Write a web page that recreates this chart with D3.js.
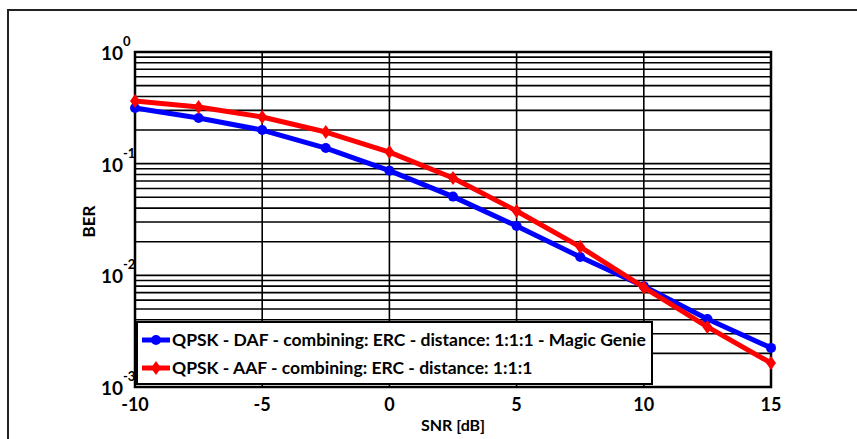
<!DOCTYPE html>
<html>
<head>
<meta charset="utf-8">
<script src="https://cdn.jsdelivr.net/npm/d3@7"></script>
<style>
  body { margin: 0; background: #fff; }
  text { font-family: Lato, "Open Sans", sans-serif; font-weight: bold; fill: #000; }
</style>
</head>
<body>
<svg id="chart" width="857" height="439"></svg>
<script>
// SNR values (dB) and BER for each series
var snr = [-10, -7.5, -5, -2.5, 0, 2.5, 5, 7.5, 10, 12.5, 15];
var berDAF = [0.315, 0.256, 0.200, 0.138, 0.0866, 0.0507, 0.0277, 0.0146, 0.0080, 0.00407, 0.00224];
var berAAF = [0.364, 0.322, 0.262, 0.192, 0.127, 0.0745, 0.0377, 0.0180, 0.0078, 0.00345, 0.00164];
var seriesNames = [
    "QPSK - DAF - combining: ERC - distance: 1:1:1 - Magic Genie",
    "QPSK - AAF - combining: ERC - distance: 1:1:1"
];
var xTicks = [-10, -5, 0, 5, 10, 15];
var yDecades = [0, -1, -2, -3];

var svg = d3.select("#chart");

// outer frame
svg.append("rect")
    .attr("x", 8).attr("y", 10)
    .attr("width", 900).attr("height", 500)
    .attr("fill", "none").attr("stroke", "#222").attr("stroke-width", 2);

var pLeft = 135, pRight = 771, pTop = 52, pBottom = 387;

var x = d3.scaleLinear().domain([-10, 15]).range([pLeft, pRight]);
var y = d3.scaleLog().domain([1e-3, 1]).range([pBottom, pTop]);

// horizontal grid (decades and minors)
var hGrid = [];
[-3, -2, -1].forEach(function(e) {
    for (var m = 1; m <= 9; m++) hGrid.push(m * Math.pow(10, e));
});
svg.append("g").selectAll("line").data(hGrid).enter().append("line")
    .attr("x1", pLeft).attr("x2", pRight)
    .attr("y1", function(d) { return y(d); })
    .attr("y2", function(d) { return y(d); })
    .attr("stroke", "#000").attr("stroke-width", 1.6);

// vertical grid
svg.append("g").selectAll("line").data(xTicks).enter().append("line")
    .attr("y1", pTop).attr("y2", pBottom)
    .attr("x1", function(d) { return x(d); })
    .attr("x2", function(d) { return x(d); })
    .attr("stroke", "#000").attr("stroke-width", 1.6);

// axes box
svg.append("rect")
    .attr("x", pLeft).attr("y", pTop)
    .attr("width", pRight - pLeft).attr("height", pBottom - pTop)
    .attr("fill", "none").attr("stroke", "#000").attr("stroke-width", 2.5);

// x tick labels
svg.append("g").selectAll("text").data(xTicks).enter().append("text")
    .attr("x", function(d) { return x(d); })
    .attr("y", 411)
    .attr("text-anchor", "middle")
    .attr("font-size", 18)
    .text(function(d) { return d; });

// y tick labels 10^n
var yl = svg.append("g").selectAll("g").data(yDecades).enter().append("g")
    .attr("transform", function(d) { return "translate(0," + y(Math.pow(10, d)) + ")"; });
yl.append("text")
    .attr("x", 123).attr("y", 8)
    .attr("text-anchor", "end")
    .attr("font-size", 19)
    .text("10");
yl.append("text")
    .attr("x", 123).attr("y", -6)
    .attr("text-anchor", "start")
    .attr("font-size", 13)
    .text(function(d) { return d; });

// axis titles
svg.append("text")
    .attr("x", x(2.5)).attr("y", 431)
    .attr("text-anchor", "middle")
    .attr("font-size", 16)
    .text("SNR [dB]");
svg.append("text")
    .attr("transform", "translate(95," + ((pTop + pBottom) / 2 + 2) + ") rotate(-90)")
    .attr("text-anchor", "middle")
    .attr("font-size", 17)
    .text("BER");

var line = d3.line()
    .x(function(d) { return x(d[0]); })
    .y(function(d) { return y(d[1]); });

var diamond = "M0,-7 L5,0 L0,7 L-5,0 Z";

function drawSeries(vals, color, marker) {
    var pts = snr.map(function(s, i) { return [s, vals[i]]; });
    var g = svg.append("g");
    g.append("path").datum(pts)
        .attr("d", line)
        .attr("fill", "none").attr("stroke", color)
        .attr("stroke-width", 5).attr("stroke-linejoin", "round");
    var m = g.selectAll(".m").data(pts).enter();
    if (marker === "circle") {
        m.append("circle")
            .attr("cx", function(d) { return x(d[0]); })
            .attr("cy", function(d) { return y(d[1]); })
            .attr("r", 5).attr("fill", color);
    } else {
        m.append("path")
            .attr("d", diamond)
            .attr("transform", function(d) { return "translate(" + x(d[0]) + "," + y(d[1]) + ")"; })
            .attr("fill", color);
    }
}

drawSeries(berDAF, "#0000ff", "circle");
drawSeries(berAAF, "#ff0000", "diamond");

// legend
var lg = svg.append("g");
lg.append("rect")
    .attr("x", 137).attr("y", 322)
    .attr("width", 515).attr("height", 62)
    .attr("fill", "#fff").attr("stroke", "#000").attr("stroke-width", 2);
var colors = ["#0000ff", "#ff0000"];
seriesNames.forEach(function(name, i) {
    var cy = 340 + i * 28;
    lg.append("line")
        .attr("x1", 142).attr("x2", 170)
        .attr("y1", cy).attr("y2", cy)
        .attr("stroke", colors[i]).attr("stroke-width", 5);
    if (i === 0) {
        lg.append("circle").attr("cx", 156).attr("cy", cy).attr("r", 5).attr("fill", colors[i]);
    } else {
        lg.append("path").attr("d", diamond)
            .attr("transform", "translate(156," + cy + ")").attr("fill", colors[i]);
    }
    lg.append("text")
        .attr("x", 172).attr("y", cy + 6)
        .attr("font-size", 17.5)
        .text(name);
});
</script>
</body>
</html>
